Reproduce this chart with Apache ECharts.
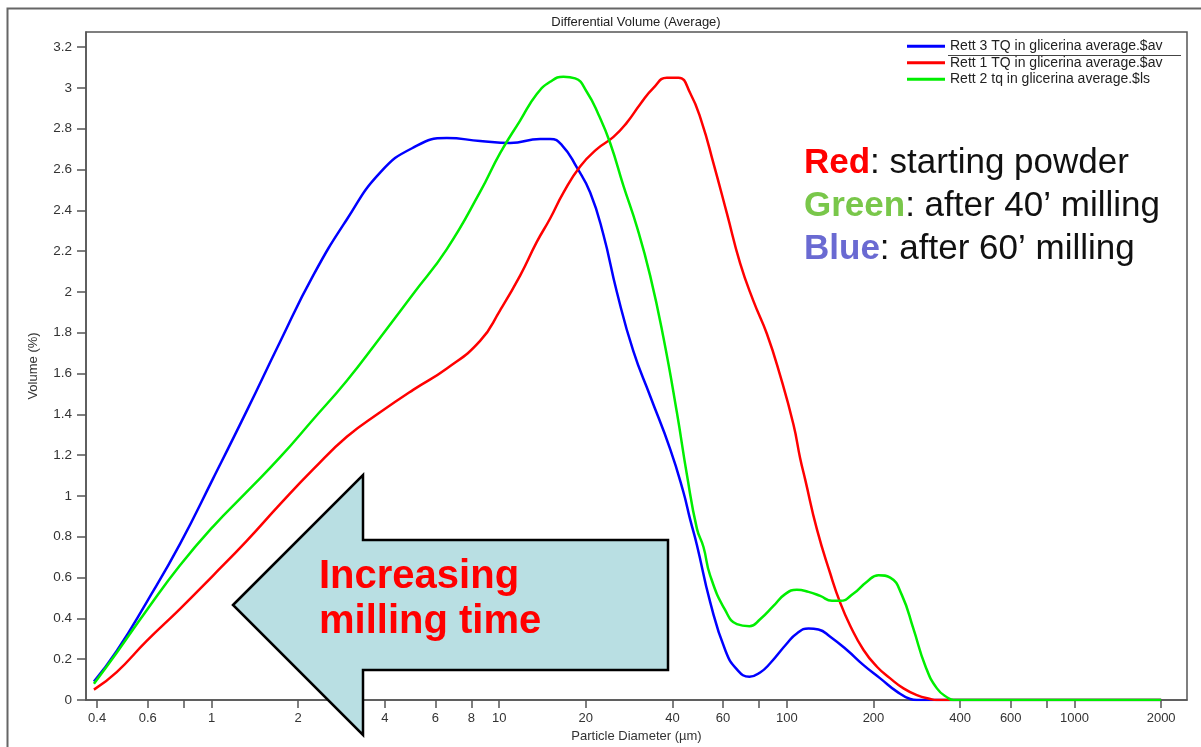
<!DOCTYPE html>
<html>
<head>
<meta charset="utf-8">
<script src="https://cdn.jsdelivr.net/npm/echarts@6/dist/echarts.min.js"></script>
<style>
html,body{margin:0;padding:0;background:#fff;}
#chart{width:1201px;height:747px;}
</style>
</head>
<body>
<div id="chart"></div>
<script>
// ---------- data ----------
const chartTitle = 'Differential Volume (Average)';
const xAxisName = 'Particle Diameter (µm)';
const yAxisName = 'Volume (%)';
const seriesNames = [
  'Rett 3 TQ in glicerina average.$av',
  'Rett 1 TQ in glicerina average.$av',
  'Rett 2 tq in glicerina average.$ls'
];
const seriesColors = ['#0000ff', '#ff0000', '#00ee00'];

const xTickValues = [0.4,0.6,0.8,1,2,4,6,8,10,20,40,60,80,100,200,400,600,800,1000,2000];
const xLabelValues = [0.4,0.6,1,2,4,6,8,10,20,40,60,100,200,400,600,1000,2000];
const yTickValues = [0,0.2,0.4,0.6,0.8,1,1.2,1.4,1.6,1.8,2,2.2,2.4,2.6,2.8,3,3.2];

// Blue: Rett 3 (after 60' milling)
const blueDiameter = [0.39,0.468,0.595,0.777,1.012,1.325,1.731,2.254,2.952,3.854,5.02,6.575,8.58,10.91,13.88,15.03,16.51,18.61,20.71,22.98,25.64,29.22,33.47,39.29,43.6,46.1,48.66,54.12,61.04,67.02,74.13,80.73,87.48,100,108.3,118.9,128.8,141.5,161.7,184.7,211.1,241.3,268.4,283.1,320,2000];
const blueVolume   = [0.09,0.24,0.48,0.765,1.085,1.417,1.756,2.08,2.355,2.585,2.707,2.754,2.74,2.73,2.75,2.75,2.72,2.61,2.487,2.285,2.0,1.712,1.49,1.23,1.023,0.885,0.76,0.48,0.245,0.15,0.114,0.135,0.18,0.277,0.326,0.351,0.346,0.31,0.245,0.171,0.106,0.041,0.005,0,0,0];

// Red: Rett 1 (starting powder)
const redDiameter = [0.39,0.468,0.595,0.777,1.012,1.325,1.731,2.254,2.952,3.854,5.02,6.575,8.58,10.07,11.82,13.51,15.03,16.72,19.11,21.85,24.96,27.78,30.9,34.38,38.27,42.0,46.1,50.64,55.57,61.87,68.8,76.53,85.2,94.8,105.4,111.2,115.8,127.2,141.5,153.2,166.0,184.7,205.6,228.7,254.3,283.1,315.0,332.3,2000];
const redVolume   = [0.051,0.137,0.29,0.447,0.61,0.78,0.96,1.13,1.29,1.41,1.52,1.625,1.76,1.91,2.08,2.245,2.36,2.487,2.615,2.70,2.76,2.83,2.92,3.0,3.05,3.05,2.975,2.83,2.63,2.385,2.14,1.955,1.795,1.59,1.35,1.185,1.08,0.836,0.62,0.477,0.364,0.245,0.163,0.106,0.057,0.024,0.005,0,0];

// Green: Rett 2 (after 40' milling)
const greenDiameter = [0.39,0.468,0.595,0.777,1.012,1.325,1.731,2.254,2.952,3.854,5.02,6.575,8.58,10.07,11.82,13.51,15.03,16.72,18.36,20.17,22.13,24.3,27.03,30.09,33.47,37.24,41.45,44.91,48.66,51.29,54.12,61.04,67.02,74.13,80.73,89.82,98.6,108.3,118.9,130.6,143.4,153.2,170.5,189.8,208.3,228.7,251.1,275.6,302.7,332.3,364.8,379.7,2000];
const greenVolume   = [0.08,0.232,0.44,0.66,0.85,1.02,1.19,1.375,1.565,1.776,1.99,2.21,2.49,2.68,2.84,2.97,3.03,3.055,3.047,2.98,2.87,2.73,2.52,2.32,2.08,1.775,1.41,1.105,0.84,0.75,0.61,0.44,0.372,0.362,0.396,0.461,0.519,0.54,0.53,0.51,0.486,0.486,0.522,0.58,0.612,0.6,0.514,0.347,0.168,0.057,0.008,0,0];

const arrowText = 'Increasing\nmilling time';
const noteLines = [
  ['Red', ': starting powder'],
  ['Green', ': after 40’ milling'],
  ['Blue', ': after 60’ milling']
];

// ---------- chart ----------
const FONT = '"Liberation Sans", Arial, Helvetica, sans-serif';
const zip = (xs, ys) => xs.map((x, i) => [x, ys[i]]);

const chart = echarts.init(document.getElementById('chart'), null, {renderer: 'canvas'});

const axisColor = '#555';
const labelColor = '#333';

const option = {
  animation: false,
  backgroundColor: '#fff',
  textStyle: {fontFamily: FONT},
  grid: {left: 86, right: 14, top: 32, bottom: 47, outerBoundsMode: 'none', containLabel: false},
  legend: {
    orient: 'vertical',
    left: 907,
    top: 38,
    padding: 0,
    itemGap: 0,
    itemWidth: 38,
    itemHeight: 3,
    icon: 'rect',
    data: seriesNames,
    textStyle: {fontSize: 14, color: '#222', lineHeight: 16.5, fontFamily: FONT}
  },
  xAxis: {
    type: 'log',
    logBase: 10,
    min: 0.366,
    max: 2460,
    name: xAxisName,
    nameLocation: 'middle',
    nameGap: 30,
    nameTextStyle: {fontSize: 13, color: labelColor, fontFamily: FONT},
    axisLine: {show: true, onZero: false, lineStyle: {color: axisColor, width: 1.5}},
    axisTick: {show: true, inside: false, length: 8, customValues: xTickValues, lineStyle: {color: axisColor, width: 1.5}},
    axisLabel: {customValues: xLabelValues, margin: 12, fontSize: 13, color: labelColor, fontFamily: FONT,
      formatter: v => String(+(+v).toPrecision(6))},
    splitLine: {show: false},
    minorTick: {show: false}
  },
  yAxis: {
    type: 'value',
    min: 0,
    max: 3.274,
    name: yAxisName,
    nameLocation: 'middle',
    nameGap: 46,
    nameTextStyle: {fontSize: 13, color: labelColor, fontFamily: FONT},
    axisLine: {show: true, lineStyle: {color: axisColor, width: 1.5}},
    axisTick: {show: true, inside: false, length: 9, customValues: yTickValues, lineStyle: {color: axisColor, width: 1.5}},
    axisLabel: {customValues: yTickValues, margin: 14, fontSize: 13.5, color: labelColor, fontFamily: FONT,
      formatter: v => String(+(+v).toPrecision(6))},
    splitLine: {show: false}
  },
  series: [
    {name: seriesNames[0], data: zip(blueDiameter, blueVolume)},
    {name: seriesNames[1], data: zip(redDiameter, redVolume)},
    {name: seriesNames[2], data: zip(greenDiameter, greenVolume)}
  ].map((s, i) => Object.assign(s, {
    type: 'line',
    showSymbol: false,
    smooth: 0.5,
    color: seriesColors[i],
    lineStyle: {color: seriesColors[i], width: 2.5},
    z: 3
  })),
  graphic: [
    // outer frame
    {type: 'polyline', silent: true, z: 1, shape: {points: [[7.5, 747], [7.5, 8.5], [1201, 8.5]]},
      style: {stroke: '#666', lineWidth: 2, fill: null}},
    // plot frame
    {type: 'rect', silent: true, z: 1, shape: {x: 86, y: 32, width: 1101, height: 668},
      style: {stroke: '#555', lineWidth: 1.5, fill: null}},
    // title
    {type: 'text', silent: true, z: 5, x: 636, y: 22,
      style: {text: chartTitle, align: 'center', verticalAlign: 'middle', font: '13px ' + FONT, fill: '#222'}},
    // legend underline
    {type: 'line', silent: true, z: 5, shape: {x1: 948, y1: 55.5, x2: 1181, y2: 55.5},
      style: {stroke: '#444', lineWidth: 1}},
    // arrow
    {type: 'polygon', silent: true, z: 10,
      shape: {points: [[233, 605], [363, 475], [363, 540], [668, 540], [668, 670], [363, 670], [363, 735]]},
      style: {fill: '#b9dfe3', stroke: '#000', lineWidth: 2.5, lineJoin: 'miter'}},
    {type: 'text', silent: true, z: 11, x: 319, y: 554,
      style: {text: arrowText, font: 'bold 40px ' + FONT, fill: '#ff0000', lineHeight: 45}},
    // annotation text
    {type: 'text', silent: true, z: 11, x: 804, y: 142,
      style: {
        text: noteLines.map(l => '{' + l[0].toLowerCase() + '|' + l[0] + '}{n|' + l[1] + '}').join('\n'),
        font: '35px ' + FONT,
        lineHeight: 43,
        rich: {
          red: {fontWeight: 'bold', fill: '#ff0000', fontSize: 35, fontFamily: FONT, lineHeight: 43},
          green: {fontWeight: 'bold', fill: '#79c74a', fontSize: 35, fontFamily: FONT, lineHeight: 43},
          blue: {fontWeight: 'bold', fill: '#6a6ad2', fontSize: 35, fontFamily: FONT, lineHeight: 43},
          n: {fill: '#111', fontSize: 35, fontFamily: FONT, lineHeight: 43}
        }
      }}
  ]
};

chart.setOption(option);
</script>
</body>
</html>
